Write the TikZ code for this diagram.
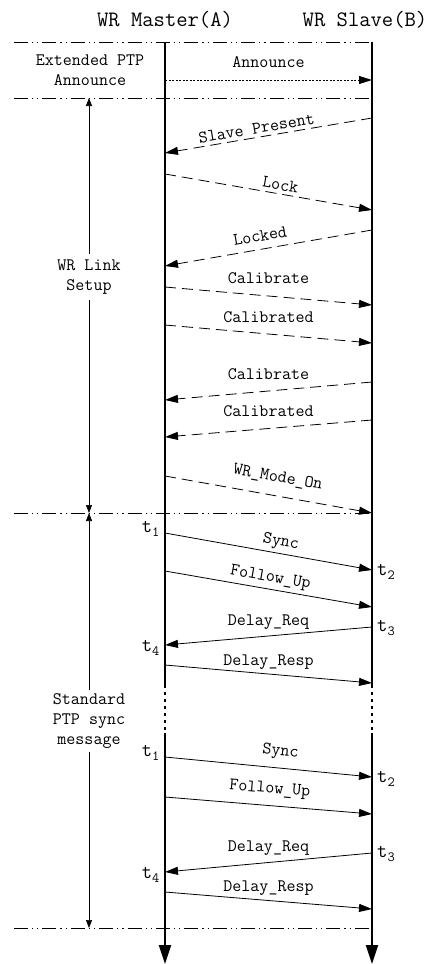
\documentclass[tikz,border=0pt]{standalone}
\usepackage{fontspec}
\usetikzlibrary{arrows.meta,positioning,calc}

\tikzset{
  life/.style={line width=2pt},
  msg/.style={-{Triangle[length=13pt,width=8pt]},line width=0.8pt},
  wrmsg/.style={msg,dash pattern=on 11pt off 6pt},
  annmsg/.style={msg,dash pattern=on 2pt off 1.5pt},
  sepline/.style={line width=0.8pt,dash pattern=on 14pt off 4pt on 1.2pt off 4pt on 1.2pt off 4pt},
  phase/.style={line width=0.6pt,-{Triangle[length=8pt,width=6pt]}},
  lbl/.style={font=\ttfamily\fontsize{17.5}{20}\selectfont},
  head/.style={font=\ttfamily\fontsize{22}{24}\selectfont},
  stamp/.style={font=\ttfamily\fontsize{20}{22}\selectfont,inner sep=3pt}
}

\begin{document}
\begin{tikzpicture}[x=1pt,y=-1pt]
                \useasboundingbox (0,0) rectangle (429,964);

                \node [head] (master) at (165,20) {WR Master(A)};
                \node [head] (slave) at (365,20) {WR Slave(B)};

                \foreach \n/\y in {1/42,2/98,3/513,4/928}
                {
                    \coordinate (L\n) at (14,\y);
                    \coordinate (R\n) at (372,\y);
                    \draw [sepline] (L\n) -- (R\n);
                }

                % life lines, dotted gap between the two sync rounds
                \coordinate (Atop) at (165,42);
                \coordinate (Acut) at (165,685);
                \coordinate (Ares) at (165,733);
                \coordinate (Aend) at (165,964);
                \coordinate (Btop) at (372,42);
                \coordinate (Bcut) at (372,685);
                \coordinate (Bres) at (372,733);
                \coordinate (Bend) at (372,964);
                \draw [life] (Atop) -- (Acut);
                \draw [life] (Btop) -- (Bcut);
                \draw [life,dash pattern=on 3pt off 4pt] (Acut) -- (Ares);
                \draw [life,dash pattern=on 3pt off 4pt] (Bcut) -- (Bres);
                \draw [life,-{Triangle[length=19pt,width=12pt]}] (Ares) -- (Aend);
                \draw [life,-{Triangle[length=19pt,width=12pt]}] (Bres) -- (Bend);

                \foreach \i/\y in {0/80,1/153,2/174,3/266,4/287,5/325,6/400,7/437,8/476,
                                   9/533,10/571,11/645,12/665,13/757,14/797,15/872,16/892}
                    \coordinate (m\i) at (165,\y);
                \foreach \i/\y in {0/80,1/118,2/210,3/230,4/305,5/343,6/382,7/420,8/513,
                                   9/570,10/607,11/627,12/683,13/777,14/814,15/853,16/909}
                    \coordinate (s\i) at (372,\y);

                % phases
                \node [lbl,align=center] (ext) at (90,70) {Extended PTP\\Announce};
                \node [lbl,align=center,inner sep=6pt] (setup) at (89,277) {WR Link\\Setup};
                \node [lbl,align=center,inner sep=3pt] (std) at (89,721) {Standard\\PTP sync\\message};
                \draw [phase] (setup) -- (setup |- L2);
                \draw [phase] (setup) -- (setup |- L3);
                \draw [phase] (std) -- (std |- L3);
                \draw [phase] (std) -- (std |- L4);

                \draw [annmsg] (m0) -- node [lbl,above=9pt] {Announce} (s0);

                % WR link setup
                \draw [wrmsg] (s1) -- node [lbl,sloped,above,pos=0.55] {Slave Present} (m1);
                \draw [wrmsg] (m2) -- node [lbl,sloped,above,pos=0.55] {Lock} (s2);
                \draw [wrmsg] (s3) -- node [lbl,sloped,above=4pt,pos=0.53] {Locked} (m3);
                \draw [wrmsg] (m4) -- node [lbl,above=9pt] {Calibrate} (s4);
                \draw [wrmsg] (m5) -- node [lbl,above=8pt] {Calibrated} (s5);
                \draw [wrmsg] (s6) -- node [lbl,above=8pt] {Calibrate} (m6);
                \draw [wrmsg] (s7) -- node [lbl,above=8pt] {Calibrated} (m7);
                \draw [wrmsg] (m8) -- node [lbl,sloped,above=7pt,pos=0.53] {WR\_Mode\_On} (s8);

                % two PTP sync rounds
                \foreach \k/\gap in {9/0pt,13/5pt}
                {
                    \pgfmathtruncatemacro{\a}{\k+1}
                    \pgfmathtruncatemacro{\b}{\k+2}
                    \pgfmathtruncatemacro{\c}{\k+3}
                    \draw [msg] (m\k) -- node [lbl,sloped,above=\gap,pos=0.55] {Sync} (s\k);
                    \draw [msg] (m\a) -- node [lbl,sloped,above=\gap,pos=0.5] {Follow\_Up} (s\a);
                    \draw [msg] (s\b) -- node [lbl,above=3pt] {Delay\_Req} (m\b);
                    \draw [msg] (m\c) -- node [lbl,above=1pt] {Delay\_Resp} (s\c);
                    \node [stamp,left=2pt] (tone\k) at ($(m\k)+(0,-4)$) {t\textsubscript{1}};
                    \node [stamp,right=2pt] (ttwo\k) at ($(s\k)+(0,2)$) {t\textsubscript{2}};
                    \node [stamp,right=2pt] (tthree\k) at ($(s\b)+(0,1)$) {t\textsubscript{3}};
                    \node [stamp,left=2pt] (tfour\k) at ($(m\b)+(0,3)$) {t\textsubscript{4}};
                }
\end{tikzpicture}
\end{document}
